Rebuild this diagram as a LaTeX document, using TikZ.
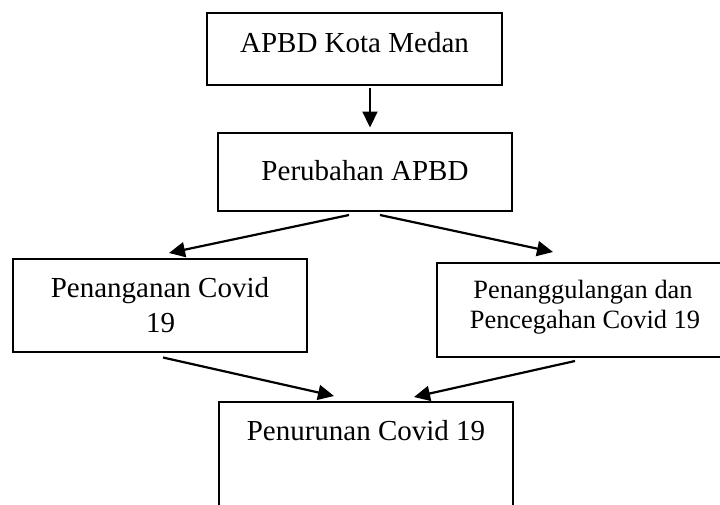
\documentclass[tikz,border=0pt]{standalone}
\usepackage{fontspec}
\setmainfont{Liberation Serif}
\usetikzlibrary{arrows.meta}
\begin{document}
\begin{tikzpicture}[x=1pt,y=-1pt,
  box/.style={draw,line width=2pt,rectangle,inner sep=0pt},
  lbl/.style={font=\fontsize{29}{35}\selectfont,anchor=base,inner sep=0pt},
  lblsmall/.style={font=\fontsize{26.4}{30}\selectfont,anchor=base,inner sep=0pt},
  conn/.style={line width=2.2pt,-{Triangle[length=16pt,width=15pt]}}]
\useasboundingbox (0,0) rectangle (720,504);
\clip (0,0) rectangle (720,504);
\fill[white] (0,0) rectangle (720,504);
% boxes
\node[box,minimum width=295pt,minimum height=72pt] (b1) at (354.5,49) {};
\node[box,minimum width=294pt,minimum height=78pt] (b2) at (365,171.5) {};
\node[box,minimum width=294pt,minimum height=93pt] (b3) at (160,305.5) {};
\node[box,minimum width=293pt,minimum height=94pt] (b4) at (583.5,310) {};
\node[box,minimum width=294pt,minimum height=118pt] (b5) at (366,461) {};
% labels
\node[lbl] (t1) at (354.5,52) {APBD Kota Medan};
\node[lbl] (t2) at (365,180) {Perubahan APBD};
\node[lbl] (t3a) at (160,297) {Penanganan Covid};
\node[lbl] (t3b) at (160.5,332) {19};
\node[lblsmall] (t4a) at (583,298) {Penanggulangan dan};
\node[lblsmall] (t4b) at (585,328) {Pencegahan Covid 19};
\node[lbl] (t5) at (366,440) {Penurunan Covid 19};
% connectors
\draw[conn] ([xshift=15.5pt,yshift=-2pt]b1.south) -- ([xshift=5pt,yshift=4pt]b2.north);
\draw[conn] ([xshift=-16pt,yshift=-3.5pt]b2.south) -- ([xshift=9pt,yshift=5pt]b3.north);
\draw[conn] ([xshift=15pt,yshift=-3.5pt]b2.south) -- ([xshift=-30.5pt,yshift=10pt]b4.north);
\draw[conn] ([xshift=3pt,yshift=-4.5pt]b3.south) -- ([xshift=-32pt,yshift=5pt]b5.north);
\draw[conn] ([xshift=-8.5pt,yshift=-3pt]b4.south) -- ([xshift=48pt,yshift=4pt]b5.north);
\end{tikzpicture}
\end{document}
